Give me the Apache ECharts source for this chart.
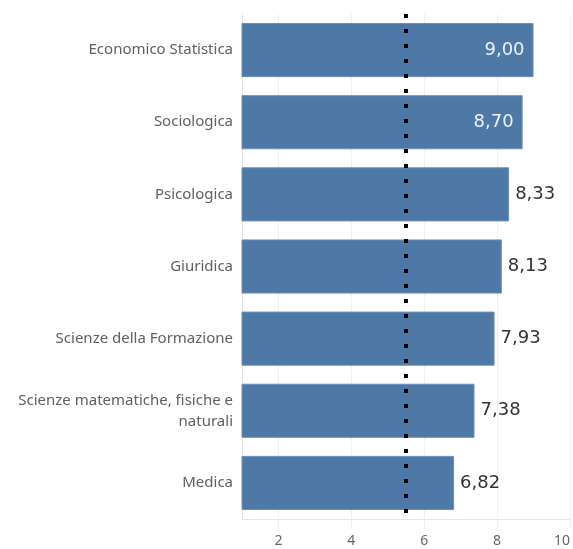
<!DOCTYPE html>
<html>
<head>
<meta charset="utf-8">
<script src="https://cdn.jsdelivr.net/npm/echarts@6/dist/echarts.min.js"></script>
<style>
  html, body { margin: 0; padding: 0; background: #fff; }
  #main { width: 573px; height: 549px; }
</style>
</head>
<body>
<div id="main"></div>
<script>
// categorie (dall'alto verso il basso)
var categories = [
    'Economico Statistica',
    'Sociologica',
    'Psicologica',
    'Giuridica',
    'Scienze della Formazione',
    'Scienze matematiche, fisiche e\nnaturali',
    'Medica'
];
var values = [9.00, 8.70, 8.33, 8.13, 7.93, 7.38, 6.82];
var xTicks = [2, 4, 6, 8, 10];
var refLine = 5.5; // linea tratteggiata verticale

var barColor = '#4e79a7';

var chart = echarts.init(document.getElementById('main'));

// etichette: dentro la barra per i valori alti, fuori per gli altri
var barData = values.map(function (v) {
    var inside = v >= 8.5;
    return {
        value: v,
        label: {
            position: inside ? 'insideRight' : 'right',
            distance: inside ? 9 : 6,
            color: inside ? '#eef2f7' : '#333'
        }
    };
});

var option = {
    backgroundColor: '#fff',
    animation: false,
    grid: { left: 242, right: 0, top: 14, bottom: 30, containLabel: false },
    xAxis: {
        type: 'value',
        min: 1,
        max: 10,
        axisLine: { show: true, lineStyle: { color: '#e4e4e4', width: 1 } },
        axisTick: { show: true, length: 8, customValues: xTicks, lineStyle: { color: '#ececec' } },
        axisLabel: {
            customValues: xTicks,
            color: '#666',
            fontSize: 14,
            fontFamily: 'Noto Sans',
            margin: 15,
            alignMaxLabel: 'right'
        },
        splitLine: { show: true, lineStyle: { color: '#f0f0f0', width: 1 } }
    },
    yAxis: {
        type: 'category',
        inverse: true,
        data: categories,
        axisLine: { show: true, lineStyle: { color: '#e4e4e4' } },
        axisTick: { show: false },
        axisLabel: {
            color: '#606060',
            fontSize: 15,
            fontFamily: 'Noto Sans',
            lineHeight: 21,
            align: 'right',
            margin: 9
        }
    },
    series: [
        {
            type: 'bar',
            data: barData,
            barCategoryGap: '25%',
            itemStyle: { color: barColor, borderColor: '#6d8fb7', borderWidth: 1 },
            label: {
                show: true,
                fontSize: 18,
                fontFamily: 'DejaVu Sans',
                formatter: function (p) {
                    return p.value.toFixed(2).replace('.', ',');
                }
            },
            markLine: {
                silent: true,
                symbol: 'none',
                label: { show: false },
                lineStyle: { color: '#000', width: 4, type: [4, 11], cap: 'butt' },
                data: [{ xAxis: refLine }]
            }
        }
    ]
};

chart.setOption(option);
</script>
</body>
</html>
